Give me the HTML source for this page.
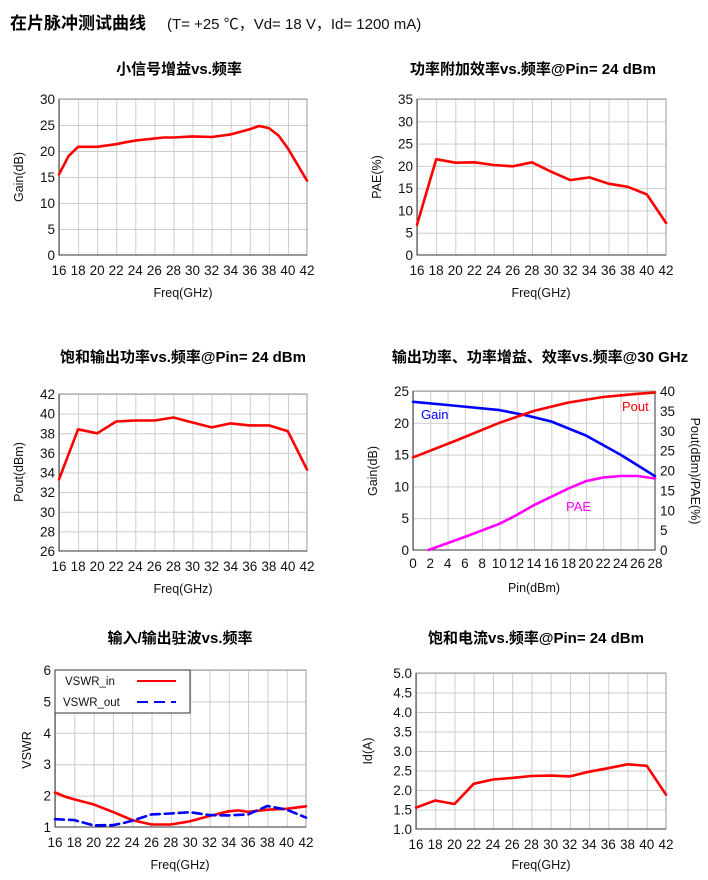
<!DOCTYPE html>
<html><head><meta charset="utf-8"><style>
body{margin:0;background:#fff;width:708px;height:880px;overflow:hidden}
svg{display:block}
text{font-family:"Liberation Sans","Noto Sans CJK SC",sans-serif;fill:#111}
.h{font-size:15px;font-weight:bold;text-anchor:middle;font-family:"Liberation Sans","Noto Sans CJK SC",sans-serif;fill:#000}
.xl text{text-anchor:middle;font-size:13.5px}
.yl text{text-anchor:end;font-size:13.5px}
.yr text{font-size:13.5px}
.ax{font-size:12.5px;text-anchor:middle}
.fr{fill:none;stroke:#999;stroke-width:1}
.ab{stroke:#333;stroke-width:1;fill:none}
.d{fill:none;stroke-width:2.6;stroke-linejoin:round;stroke-linecap:round}
</style></head><body>
<svg width="708" height="880" viewBox="0 0 708 880" xmlns="http://www.w3.org/2000/svg">
<defs>
<pattern id="g1" patternUnits="userSpaceOnUse" width="19.077" height="26"><path d="M0.5 0V26M0 0.5H19.077" stroke="#ccc" fill="none"/></pattern>
<pattern id="g2" patternUnits="userSpaceOnUse" width="19.154" height="22.286"><path d="M0.5 0V23M0 0.5H20" stroke="#ccc" fill="none"/></pattern>
<pattern id="g3" patternUnits="userSpaceOnUse" width="19.077" height="19.625"><path d="M0.5 0V20M0 0.5H20" stroke="#ccc" fill="none"/></pattern>
<pattern id="g4" patternUnits="userSpaceOnUse" width="17.286" height="31.8"><path d="M0.5 0V32M0 0.5H18" stroke="#ccc" fill="none"/></pattern>
<pattern id="g5" patternUnits="userSpaceOnUse" width="19.308" height="31.4"><path d="M0.5 0V32M0 0.5H20" stroke="#ccc" fill="none"/></pattern>
<pattern id="g6" patternUnits="userSpaceOnUse" width="19.231" height="19.5"><path d="M0.5 0V20M0 0.5H20" stroke="#ccc" fill="none"/></pattern>
</defs>
<text x="10" y="29" style="font-size:17px;font-weight:bold;fill:#000">在片脉冲测试曲线</text>
<text x="167" y="29" style="font-size:15px">(T= +25 ℃，Vd= 18 V，Id= 1200 mA)</text>

<!-- Chart 1 -->
<text class="h" x="179" y="74">小信号增益vs.频率</text>
<g transform="translate(59,99)">
<rect width="248" height="156" fill="url(#g1)"/>
<rect class="fr" x="0" y="0" width="248" height="156"/>
<path class="ab" d="M0 0V156H248"/>
<polyline class="d" stroke="#f00" points="0,75.4 9.5,57.2 19.1,47.8 38.2,47.8 57.2,45.2 66.8,43.2 76.3,41.6 95.4,39.5 104.9,38.5 114.5,38.5 133.5,37.4 152.6,38 171.7,35.4 190.8,30.2 200.3,27 209.9,29.1 219.4,36.4 228.9,49.4 248,81.6"/>
<g class="xl"><text x="0" y="176">16</text><text x="19.1" y="176">18</text><text x="38.2" y="176">20</text><text x="57.2" y="176">22</text><text x="76.3" y="176">24</text><text x="95.4" y="176">26</text><text x="114.5" y="176">28</text><text x="133.5" y="176">30</text><text x="152.6" y="176">32</text><text x="171.7" y="176">34</text><text x="190.8" y="176">36</text><text x="209.9" y="176">38</text><text x="228.9" y="176">40</text><text x="248" y="176">42</text></g>
<g class="yl"><text x="-4" y="5">30</text><text x="-4" y="31">25</text><text x="-4" y="57">20</text><text x="-4" y="83">15</text><text x="-4" y="109">10</text><text x="-4" y="135">5</text><text x="-4" y="161">0</text></g>
<text class="ax" x="124" y="198">Freq(GHz)</text>
<text class="ax" transform="translate(-36,78) rotate(-90)">Gain(dB)</text>
</g>

<!-- Chart 2 -->
<text class="h" x="533" y="74">功率附加效率vs.频率@Pin= 24 dBm</text>
<g transform="translate(417,99)">
<rect width="249" height="156" fill="url(#g2)"/>
<rect class="fr" x="0" y="0" width="249" height="156"/>
<path class="ab" d="M0 0V156H249"/>
<polyline class="d" stroke="#f00" points="0,125.7 19.2,60.2 38.3,63.7 57.5,63.3 76.6,66 95.8,67.3 114.9,63.3 134.1,72.7 153.2,81.1 172.4,78.4 191.5,84.7 210.7,87.8 229.8,95.4 249,123.9"/>
<g class="xl"><text x="0" y="176">16</text><text x="19.2" y="176">18</text><text x="38.3" y="176">20</text><text x="57.5" y="176">22</text><text x="76.6" y="176">24</text><text x="95.8" y="176">26</text><text x="114.9" y="176">28</text><text x="134.1" y="176">30</text><text x="153.2" y="176">32</text><text x="172.4" y="176">34</text><text x="191.5" y="176">36</text><text x="210.7" y="176">38</text><text x="229.8" y="176">40</text><text x="249" y="176">42</text></g>
<g class="yl"><text x="-4" y="5">35</text><text x="-4" y="27.3">30</text><text x="-4" y="49.6">25</text><text x="-4" y="71.9">20</text><text x="-4" y="94.1">15</text><text x="-4" y="116.4">10</text><text x="-4" y="138.7">5</text><text x="-4" y="161">0</text></g>
<text class="ax" x="124" y="198">Freq(GHz)</text>
<text class="ax" transform="translate(-36,78) rotate(-90)">PAE(%)</text>
</g>

<!-- Chart 3 -->
<text class="h" x="183" y="362">饱和输出功率vs.频率@Pin= 24 dBm</text>
<g transform="translate(59,394)">
<rect width="248" height="157" fill="url(#g3)"/>
<rect class="fr" x="0" y="0" width="248" height="157"/>
<path class="ab" d="M0 0V157H248"/>
<polyline class="d" stroke="#f00" points="0,85.4 19.1,35.3 38.2,39.3 57.2,27.5 76.3,26.5 95.4,26.5 114.5,23.5 133.5,28.5 152.6,33.4 171.7,29.4 190.8,31.4 209.9,31.4 228.9,37.3 248,75.6"/>
<g class="xl"><text x="0" y="177">16</text><text x="19.1" y="177">18</text><text x="38.2" y="177">20</text><text x="57.2" y="177">22</text><text x="76.3" y="177">24</text><text x="95.4" y="177">26</text><text x="114.5" y="177">28</text><text x="133.5" y="177">30</text><text x="152.6" y="177">32</text><text x="171.7" y="177">34</text><text x="190.8" y="177">36</text><text x="209.9" y="177">38</text><text x="228.9" y="177">40</text><text x="248" y="177">42</text></g>
<g class="yl"><text x="-4" y="5">42</text><text x="-4" y="24.6">40</text><text x="-4" y="44.3">38</text><text x="-4" y="63.9">36</text><text x="-4" y="83.5">34</text><text x="-4" y="103.1">32</text><text x="-4" y="122.8">30</text><text x="-4" y="142.4">28</text><text x="-4" y="162">26</text></g>
<text class="ax" x="124" y="199">Freq(GHz)</text>
<text class="ax" transform="translate(-36,78) rotate(-90)">Pout(dBm)</text>
</g>

<!-- Chart 4 -->
<text class="h" x="540" y="362">输出功率、功率增益、效率vs.频率@30 GHz</text>
<g transform="translate(413,391)">
<rect width="242" height="159" fill="url(#g4)"/>
<rect class="fr" x="0" y="0" width="242" height="159"/>
<path class="ab" d="M0 0V159H242V0"/>
<polyline class="d" stroke="#00f" points="0,10.8 34.6,14 86.4,19.1 112.4,24.2 138.3,30.5 172.9,44.5 207.4,63.6 242,85.2"/>
<polyline class="d" stroke="#f00" points="0,66.4 43.2,49.5 86.4,31.8 121,19.9 155.6,11.5 190.1,6 224.7,2.8 242,1.6"/>
<polyline class="d" stroke="#f0f" points="15.6,159 51.9,145.9 86.4,132.8 103.7,124 121,114.1 155.6,97.4 172.9,90.2 190.1,86.5 207.4,85 224.7,85 242,87.5"/>
<text x="8" y="28" style="font-size:13px;fill:#00f">Gain</text>
<text x="209" y="20" style="font-size:13px;fill:#f00">Pout</text>
<text x="153" y="120" style="font-size:13px;fill:#f0f">PAE</text>
<g class="xl"><text x="0" y="177">0</text><text x="17.3" y="177">2</text><text x="34.6" y="177">4</text><text x="51.9" y="177">6</text><text x="69.1" y="177">8</text><text x="86.4" y="177">10</text><text x="103.7" y="177">12</text><text x="121" y="177">14</text><text x="138.3" y="177">16</text><text x="155.6" y="177">18</text><text x="172.9" y="177">20</text><text x="190.1" y="177">22</text><text x="207.4" y="177">24</text><text x="224.7" y="177">26</text><text x="242" y="177">28</text></g>
<g class="yl"><text x="-4" y="5">25</text><text x="-4" y="36.8">20</text><text x="-4" y="68.6">15</text><text x="-4" y="100.4">10</text><text x="-4" y="132.2">5</text><text x="-4" y="164">0</text></g>
<g class="yr"><text x="247" y="5">40</text><text x="247" y="24.9">35</text><text x="247" y="44.8">30</text><text x="247" y="64.6">25</text><text x="247" y="84.5">20</text><text x="247" y="104.4">15</text><text x="247" y="124.3">10</text><text x="247" y="144.1">5</text><text x="247" y="164">0</text></g>
<text class="ax" x="121" y="201">Pin(dBm)</text>
<text class="ax" transform="translate(-36,80) rotate(-90)">Gain(dB)</text>
<text class="ax" transform="translate(278,80) rotate(90)">Pout(dBm)/PAE(%)</text>
</g>

<!-- Chart 5 -->
<text class="h" x="180" y="643">输入/输出驻波vs.频率</text>
<g transform="translate(55,670)">
<rect width="251" height="157" fill="url(#g5)"/>
<rect class="fr" x="0" y="0" width="251" height="157"/>
<path class="ab" d="M0 0V157H251"/>
<polyline class="d" stroke="#f00" points="0,122.5 9.7,126.5 19.3,129.4 38.6,134.4 57.9,141.9 77.2,150.1 96.5,154.5 115.8,154.5 135.1,151.3 154.5,146 173.8,141.3 183.4,140.4 193.1,141.9 212.4,139.7 231.7,138.8 251,136.3"/>
<polyline class="d" stroke="#00f" stroke-dasharray="9,5" points="0,149.2 19.3,150.1 38.6,155.4 57.9,155.1 67.6,153.2 77.2,150.7 96.5,144.4 115.8,143.5 135.1,142.2 154.5,145.1 173.8,145.4 193.1,144.4 212.4,136 231.7,139.7 251,147.6"/>
<rect x="0" y="0" width="135" height="43" fill="#fff" stroke="#333"/>
<text x="10" y="15" style="font-size:11.5px">VSWR_in</text>
<text x="8" y="36" style="font-size:11.5px">VSWR_out</text>
<line x1="82" y1="11" x2="121" y2="11" stroke="#f00" stroke-width="2"/>
<line x1="82" y1="32" x2="121" y2="32" stroke="#00f" stroke-width="2" stroke-dasharray="11,6"/>
<g class="xl"><text x="0" y="177">16</text><text x="19.3" y="177">18</text><text x="38.6" y="177">20</text><text x="57.9" y="177">22</text><text x="77.2" y="177">24</text><text x="96.5" y="177">26</text><text x="115.8" y="177">28</text><text x="135.1" y="177">30</text><text x="154.5" y="177">32</text><text x="173.8" y="177">34</text><text x="193.1" y="177">36</text><text x="212.4" y="177">38</text><text x="231.7" y="177">40</text><text x="251" y="177">42</text></g>
<g class="yl"><text x="-4" y="5">6</text><text x="-4" y="36.4">5</text><text x="-4" y="67.8">4</text><text x="-4" y="99.2">3</text><text x="-4" y="130.6">2</text><text x="-4" y="162">1</text></g>
<text class="ax" x="125" y="199">Freq(GHz)</text>
<text class="ax" transform="translate(-24,80) rotate(-90)">VSWR</text>
</g>

<!-- Chart 6 -->
<text class="h" x="536" y="643">饱和电流vs.频率@Pin= 24 dBm</text>
<g transform="translate(416,673)">
<rect width="250" height="156" fill="url(#g6)"/>
<rect class="fr" x="0" y="0" width="250" height="156"/>
<path class="ab" d="M0 0V156H250"/>
<polyline class="d" stroke="#f00" points="0,134.6 19.2,127.5 38.5,131 57.7,110.8 76.9,106.5 96.2,104.9 115.4,103 134.6,102.6 153.8,103.4 173.1,98.7 192.3,95.2 211.5,91.3 230.8,92.8 250,121.7"/>
<g class="xl"><text x="0" y="176">16</text><text x="19.2" y="176">18</text><text x="38.5" y="176">20</text><text x="57.7" y="176">22</text><text x="76.9" y="176">24</text><text x="96.2" y="176">26</text><text x="115.4" y="176">28</text><text x="134.6" y="176">30</text><text x="153.8" y="176">32</text><text x="173.1" y="176">34</text><text x="192.3" y="176">36</text><text x="211.5" y="176">38</text><text x="230.8" y="176">40</text><text x="250" y="176">42</text></g>
<g class="yl"><text x="-4" y="5">5.0</text><text x="-4" y="24.5">4.5</text><text x="-4" y="44">4.0</text><text x="-4" y="63.5">3.5</text><text x="-4" y="83">3.0</text><text x="-4" y="102.5">2.5</text><text x="-4" y="122">2.0</text><text x="-4" y="141.5">1.5</text><text x="-4" y="161">1.0</text></g>
<text class="ax" x="125" y="196">Freq(GHz)</text>
<text class="ax" transform="translate(-44,78) rotate(-90)">Id(A)</text>
</g>
</svg>
</body></html>
